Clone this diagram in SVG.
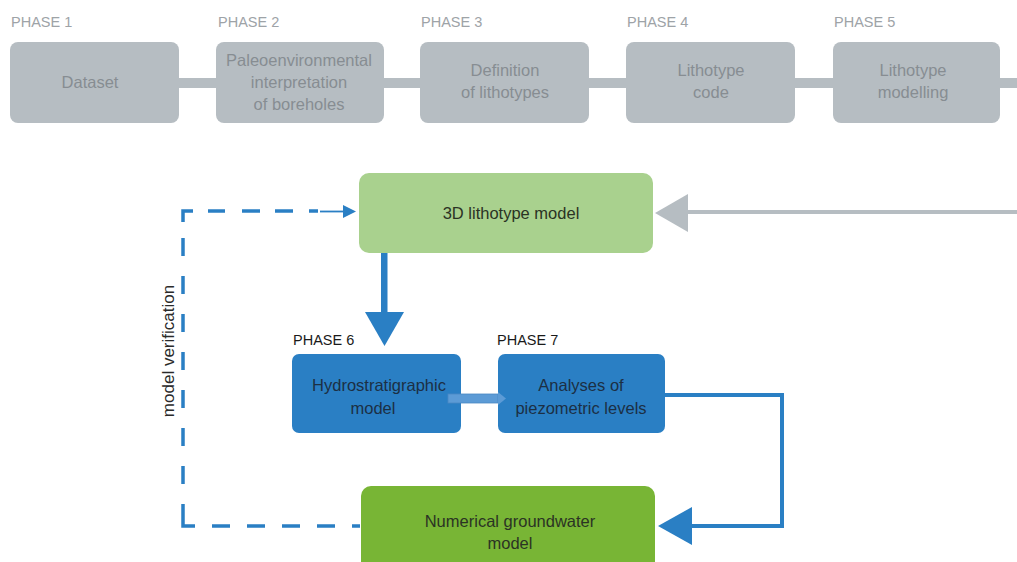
<svg xmlns="http://www.w3.org/2000/svg" width="1017" height="562" viewBox="0 0 1017 562">
<style>
text{font-family:"Liberation Sans",Arial,sans-serif;}
.phase{font-size:14.5px;fill:#9ea3a7;}
.phaseb{font-size:14.5px;fill:#1a1a1a;}
.gbox{fill:#b6bdc2;}
.gtxt{font-size:16.5px;fill:#878d92;text-anchor:middle;}
.dtxt{font-size:16.5px;fill:#2b3324;text-anchor:middle;}
.btxt{font-size:16.5px;fill:#1c2f44;text-anchor:middle;}
.bbox{fill:#2a7fc4;}
.dash{fill:none;stroke:#2a7fc4;stroke-width:3.5;}
</style>
<rect width="1017" height="562" fill="#ffffff"/>
<g id="connectors">
  <!-- top grey bar -->
  <rect x="170" y="78" width="847" height="10" fill="#b6bdc2"/>
  <!-- grey arrow into 3D model -->
  <line x1="1017" y1="212" x2="686" y2="212" stroke="#b6bdc2" stroke-width="4"/>
  <polygon points="655,213 688,194 688,232" fill="#b6bdc2"/>
  <!-- blue down arrow -->
  <rect x="381" y="253" width="6.5" height="62" fill="#2a7fc4"/>
  <polygon points="365,312 404,312 384.5,346" fill="#2a7fc4"/>
  <!-- blue return loop -->
  <polyline points="664,395 782,395 782,526 690,526" fill="none" stroke="#2a7fc4" stroke-width="4"/>
  <polygon points="658,526 692,507 692,545" fill="#2a7fc4"/>
  <!-- dashed model verification loop -->
  <path class="dash" d="M183 222 V211 H193"/>
  <path class="dash" d="M183 504 V526 H195"/>
  <path class="dash" d="M183 238 V500" stroke-dasharray="18 20"/>
  <path class="dash" d="M212 526 H360" stroke-dasharray="18 17"/>
  <line x1="208" y1="211" x2="225" y2="211" class="dash"/>
  <line x1="242" y1="211" x2="260" y2="211" class="dash"/>
  <line x1="275" y1="211" x2="293" y2="211" class="dash"/>
  <line x1="309" y1="211" x2="318" y2="211" class="dash"/>
  <line x1="320" y1="211.5" x2="345" y2="211.5" stroke="#2a7fc4" stroke-width="1.8"/>
  <polygon points="356,211.5 343,205 343,218" fill="#2a7fc4"/>
  <text x="168" y="351" font-size="17" fill="#2a2a2a" text-anchor="middle" transform="rotate(-90 168 351)" dominant-baseline="central">model verification</text>
</g>
<g id="phase1">
  <text class="phase" x="11" y="27">PHASE 1</text>
  <rect class="gbox" x="10" y="42" width="169" height="81" rx="8"/>
  <text class="gtxt" x="90" y="88">Dataset</text>
</g>
<g id="phase2">
  <text class="phase" x="218" y="27">PHASE 2</text>
  <rect class="gbox" x="216" y="42" width="168" height="81" rx="8"/>
  <text class="gtxt" x="299" y="66">Paleoenvironmental</text>
  <text class="gtxt" x="299" y="88">interpretation</text>
  <text class="gtxt" x="299" y="110">of boreholes</text>
</g>
<g id="phase3">
  <text class="phase" x="421" y="27">PHASE 3</text>
  <rect class="gbox" x="420" y="42" width="169" height="81" rx="8"/>
  <text class="gtxt" x="505" y="76">Definition</text>
  <text class="gtxt" x="505" y="98">of lithotypes</text>
</g>
<g id="phase4">
  <text class="phase" x="627" y="27">PHASE 4</text>
  <rect class="gbox" x="626" y="42" width="169" height="81" rx="8"/>
  <text class="gtxt" x="711" y="76">Lithotype</text>
  <text class="gtxt" x="711" y="98">code</text>
</g>
<g id="phase5">
  <text class="phase" x="834" y="27">PHASE 5</text>
  <rect class="gbox" x="833" y="42" width="167" height="81" rx="8"/>
  <text class="gtxt" x="913" y="76">Lithotype</text>
  <text class="gtxt" x="913" y="98">modelling</text>
</g>
<g id="lithotype-model">
  <rect x="359" y="173" width="294" height="80" rx="10" fill="#a9d18e"/>
  <text class="dtxt" x="511" y="219">3D lithotype model</text>
</g>
<g id="phase6">
  <text class="phaseb" x="293" y="345">PHASE 6</text>
  <rect class="bbox" x="292" y="354" width="169" height="79" rx="7"/>
  <text class="btxt" x="379" y="391">Hydrostratigraphic</text>
  <text class="btxt" x="373" y="414">model</text>
</g>
<g id="phase7">
  <text class="phaseb" x="497" y="345">PHASE 7</text>
  <rect class="bbox" x="498" y="354" width="167" height="79" rx="7"/>
  <text class="btxt" x="581" y="391">Analyses of</text>
  <text class="btxt" x="581" y="414">piezometric levels</text>
</g>
<g id="numerical-model">
  <rect x="361" y="486" width="294" height="90" rx="10" fill="#78b535"/>
  <text class="dtxt" x="510" y="527">Numerical groundwater</text>
  <text class="dtxt" x="510" y="549">model</text>
</g>
<g id="connector-6-7">
  <rect x="448" y="394" width="50" height="9" fill="#5c9bd6" stroke="#4a88c4" stroke-width="0.8"/>
  <polygon points="498,392 506,398.5 498,405" fill="#5c9bd6"/>
</g>
</svg>
